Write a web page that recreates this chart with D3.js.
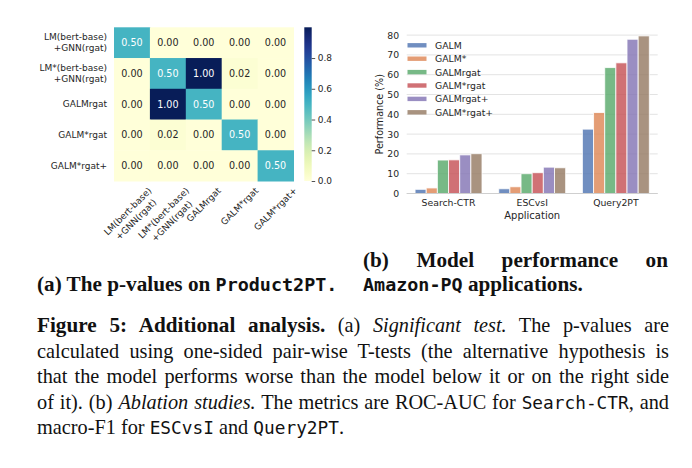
<!DOCTYPE html>
<html>
<head>
<meta charset="utf-8">
<script src="https://cdn.jsdelivr.net/npm/d3@7"></script>
<style>
  body { margin: 0; background: #fff; }
  svg { display: block; }
</style>
</head>
<body>
<div id="fig"></div>
<script>
// ---- heatmap data (p-values) ----
const hmLabels = [
  ["LM(bert-base)", "+GNN(rgat)"],
  ["LM*(bert-base)", "+GNN(rgat)"],
  ["GALMrgat"],
  ["GALM*rgat"],
  ["GALM*rgat+"]
];
const pRow0 = [0.50, 0.00, 0.00, 0.00, 0.00];
const pRow1 = [0.00, 0.50, 1.00, 0.02, 0.00];
const pRow2 = [0.00, 1.00, 0.50, 0.00, 0.00];
const pRow3 = [0.00, 0.02, 0.00, 0.50, 0.00];
const pRow4 = [0.00, 0.00, 0.00, 0.00, 0.50];
const pvals = [pRow0, pRow1, pRow2, pRow3, pRow4];
const cbTicks = [0, 0.2, 0.4, 0.6, 0.8];

// ---- bar chart data (performance %) ----
const apps = ["Search-CTR", "ESCvsI", "Query2PT"];
const models = ["GALM", "GALM*", "GALMrgat", "GALM*rgat", "GALMrgat+", "GALM*rgat+"];
const galm       = [2.1, 2.4, 32.5];
const galmStar   = [2.8, 3.4, 40.9];
const galmRgat   = [16.9, 10.0, 63.6];
const galmSRgat  = [17.0, 10.5, 66.0];
const galmRgatP  = [19.5, 13.3, 77.9];
const galmSRgatP = [20.1, 13.0, 79.6];
const perf = [galm, galmStar, galmRgat, galmSRgat, galmRgatP, galmSRgatP];
const yTicks = [0, 10, 20, 30, 40, 50, 60, 70, 80];
const palette = ["#4c72b0", "#dd8452", "#55a868", "#c44e52", "#8172b3", "#937860"];

const W = 692, H = 468;
const sans = "DejaVu Sans, sans-serif";
const serif = "Liberation Serif, serif";
const mono = "DejaVu Sans Mono, monospace";
const ink = "#262626";

let svg = d3.select('#fig').append('svg')
            .attr('width', W).attr('height', H);
svg.append('rect').attr('width', W).attr('height', H).attr('fill', '#fff');

// ================= (a) heatmap =================
let hx = d3.scaleBand().domain(d3.range(5)).range([114, 293.5]);
let hy = d3.scaleBand().domain(d3.range(5)).range([27.3, 181]);
let color = d3.scaleSequential(d3.interpolateYlGnBu).domain([0, 1]);

let cells = [];
pvals.forEach((row, i) => row.forEach((v, j) => cells.push({i: i, j: j, v: v})));

let hm = svg.append('g');
hm.selectAll('rect.cell').data(cells).enter().append('rect')
  .attr('class', 'cell')
  .attr('x', d => hx(d.j)).attr('y', d => hy(d.i))
  .attr('width', hx.bandwidth() + 0.5).attr('height', hy.bandwidth() + 0.5)
  .attr('fill', d => color(d.v));

hm.selectAll('text.annot').data(cells).enter().append('text')
  .attr('class', 'annot')
  .attr('x', d => hx(d.j) + hx.bandwidth() / 2)
  .attr('y', d => hy(d.i) + hy.bandwidth() / 2)
  .attr('text-anchor', 'middle').attr('dominant-baseline', 'central')
  .style('font-family', sans).style('font-size', '9.6px')
  .attr('fill', d => d.v >= 0.4 ? '#fff' : ink)
  .text(d => d.v.toFixed(2));

// row labels
let rowLab = hm.selectAll('text.rowlab').data(hmLabels).enter().append('text')
  .attr('class', 'rowlab')
  .attr('text-anchor', 'end')
  .style('font-family', sans).style('font-size', '9px').attr('fill', ink);
rowLab.each(function (lines, i) {
  let cy = hy(i) + hy.bandwidth() / 2;
  let off = (lines.length - 1) * 5.8;
  d3.select(this).selectAll('tspan').data(lines).enter().append('tspan')
    .attr('x', 107)
    .attr('y', (l, k) => cy - off + k * 11.6)
    .attr('dominant-baseline', 'central')
    .text(l => l);
});

// column labels, rotated 45 deg, centred on the column
hmLabels.forEach(function (lines, j) {
  let g = hm.append('g');
  let t = g.append('text')
    .attr('text-anchor', 'middle')
    .style('font-family', sans).style('font-size', '9px').attr('fill', ink);
  let off = (lines.length - 1) * 5.8;
  lines.forEach(function (l, k) {
    t.append('tspan').attr('x', 0).attr('y', -off + k * 11.6)
     .attr('dominant-baseline', 'central').text(l);
  });
  let maxW = 0;
  t.selectAll('tspan').each(function () { maxW = Math.max(maxW, this.getComputedTextLength()); });
  let ext = (maxW + lines.length * 11.6) * Math.SQRT1_2 / 2;
  g.attr('transform', 'translate(' + (hx(j) + hx.bandwidth() / 2) + ',' + (185 + ext) + ') rotate(-45)');
});

// colorbar
let cbY = d3.scaleLinear().domain([0, 1]).range([181, 27.3]);
let defs = svg.append('defs');
let grad = defs.append('linearGradient').attr('id', 'cbgrad')
  .attr('x1', 0).attr('y1', 1).attr('x2', 0).attr('y2', 0);
grad.selectAll('stop').data(d3.range(0, 1.001, 0.05)).enter().append('stop')
  .attr('offset', d => d).attr('stop-color', d => color(d));
svg.append('rect').attr('x', 304.3).attr('y', 27.3)
  .attr('width', 7.4).attr('height', 181 - 27.3).attr('fill', 'url(#cbgrad)');
let cbAxis = d3.axisRight(cbY).tickValues(cbTicks).tickSize(3.5).tickPadding(2.5)
  .tickFormat(d3.format('.1f'));
let cbG = svg.append('g').attr('transform', 'translate(311.7,0)').call(cbAxis);
cbG.select('.domain').remove();
cbG.selectAll('line').attr('stroke', ink).attr('stroke-width', 0.8);
cbG.selectAll('text').style('font-family', sans).style('font-size', '9px').attr('fill', ink);

// ================= (b) bar chart =================
let bx = d3.scaleBand().domain(apps).range([406.7, 657.7]);
let inner = d3.scaleBand().domain(models).range([0, bx.bandwidth() * 0.8]);
let by = d3.scaleLinear().domain([0, 80]).range([193.5, 35.1]);

let bc = svg.append('g');
// grid
bc.selectAll('line.grid').data(yTicks).enter().append('line')
  .attr('class', 'grid')
  .attr('x1', 406.7).attr('x2', 657.7)
  .attr('y1', d => by(d)).attr('y2', d => by(d))
  .attr('stroke', '#e3e3e3').attr('stroke-width', 1);

// y axis labels
let yAx = d3.axisLeft(by).tickValues(yTicks).tickSize(0).tickPadding(7.5);
let yG = bc.append('g').attr('transform', 'translate(406.7,0)').call(yAx);
yG.select('.domain').remove();
yG.selectAll('text').style('font-family', sans).style('font-size', '9.3px').attr('fill', ink);

// bars
let barData = [];
perf.forEach((series, m) => series.forEach((v, a) => barData.push({m: m, a: a, v: v})));
bc.selectAll('rect.bar').data(barData).enter().append('rect')
  .attr('class', 'bar')
  .attr('x', d => bx(apps[d.a]) + bx.bandwidth() * 0.1 + inner(models[d.m]))
  .attr('y', d => by(d.v))
  .attr('width', inner.bandwidth())
  .attr('height', d => by(0) - by(d.v))
  .attr('fill', d => palette[d.m]).attr('fill-opacity', 0.8)
  .attr('stroke', '#fff').attr('stroke-opacity', 0.8).attr('stroke-width', 1);

// bottom spine + x labels
bc.append('line').attr('x1', 406.7).attr('x2', 657.7)
  .attr('y1', by(0)).attr('y2', by(0)).attr('stroke', '#cfcfcf').attr('stroke-width', 1.1);
let xAx = d3.axisBottom(bx).tickSize(0).tickPadding(6);
let xG = bc.append('g').attr('transform', 'translate(0,' + by(0) + ')').call(xAx);
xG.select('.domain').remove();
xG.selectAll('text').style('font-family', sans).style('font-size', '9.3px').attr('fill', ink);

bc.append('text').attr('x', (406.7 + 657.7) / 2).attr('y', 219)
  .attr('text-anchor', 'middle')
  .style('font-family', sans).style('font-size', '10px').attr('fill', ink)
  .text('Application');
bc.append('text').attr('transform', 'translate(382.5,114.3) rotate(-90)')
  .attr('text-anchor', 'middle')
  .style('font-family', sans).style('font-size', '9.6px').attr('fill', ink)
  .text('Performance (%)');

// legend
let leg = bc.selectAll('g.leg').data(models).enter().append('g')
  .attr('class', 'leg')
  .attr('transform', (d, i) => 'translate(407.5,' + (45.3 + i * 13.4) + ')');
leg.append('rect').attr('x', 0).attr('y', -2.2).attr('width', 19).attr('height', 4.4)
  .attr('fill', (d, i) => palette[i]).attr('fill-opacity', 0.8);
leg.append('text').attr('x', 27.5).attr('y', 0).attr('dominant-baseline', 'central')
  .style('font-family', sans).style('font-size', '9.3px').attr('fill', ink)
  .text(d => d);

// ================= captions =================
const styles = {
  b:  {family: serif, weight: 'bold', style: 'normal', size: 21.2},
  r:  {family: serif, weight: 'normal', style: 'normal', size: 20.3},
  i:  {family: serif, weight: 'normal', style: 'italic', size: 20.3},
  m:  {family: mono, weight: 'normal', style: 'normal', size: 17.8},
  mb: {family: mono, weight: 'bold', style: 'normal', size: 18.4}
};

// one caption line; if width is given the line is justified by stretching word gaps
function captionLine(x, y, runs, width) {
  let t = svg.append('text').attr('x', x).attr('y', y).attr('fill', '#111')
    .attr('xml:space', 'preserve').style('white-space', 'pre');
  runs.forEach(function (r) {
    let s = styles[r[0]];
    t.append('tspan')
     .style('font-family', s.family).style('font-weight', s.weight)
     .style('font-style', s.style).style('font-size', s.size + 'px')
     .text(r[1]);
  });
  if (width) {
    let natural = t.node().getComputedTextLength();
    let gaps = runs.map(r => r[1]).join('').split(' ').length - 1;
    if (gaps > 0) t.style('word-spacing', ((width - natural) / gaps) + 'px');
  }
  return t;
}

captionLine(37, 291, [['b', '(a) The p-values on '], ['mb', 'Product2PT.']]);
captionLine(363, 267, [['b', '(b) Model performance on']], 305);
captionLine(363, 291, [['mb', 'Amazon-PQ'], ['b', ' applications.']]);

const capY = 332;
const capStep = 25.6;
captionLine(37, capY, [['b', 'Figure 5: Additional analysis.'], ['r', ' (a) '],
  ['i', 'Significant test.'], ['r', ' The p-values are']], 632);
captionLine(37, capY + capStep, [['r', 'calculated using one-sided pair-wise T-tests (the alternative hypothesis is']], 632);
captionLine(37, capY + 2 * capStep, [['r', 'that the model performs worse than the model below it or on the right side']], 632);
captionLine(37, capY + 3 * capStep, [['r', 'of it). (b) '], ['i', 'Ablation studies.'],
  ['r', ' The metrics are ROC-AUC for '], ['m', 'Search-CTR'], ['r', ', and']], 632);
captionLine(37, capY + 4 * capStep, [['r', 'macro-F1 for '], ['m', 'ESCvsI'], ['r', ' and '], ['m', 'Query2PT'], ['r', '.']]);
</script>
</body>
</html>
